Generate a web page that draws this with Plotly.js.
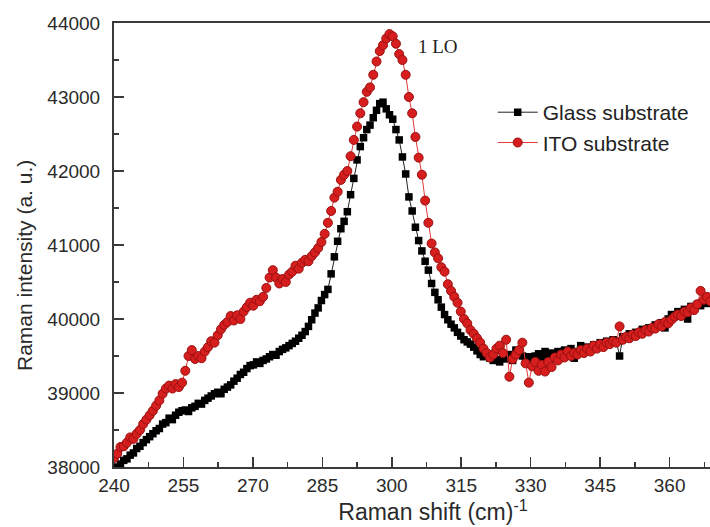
<!DOCTYPE html>
<html>
<head>
<meta charset="utf-8">
<script src="https://cdn.plot.ly/plotly-3.0.1.min.js"></script>
<style>html,body{margin:0;padding:0;overflow:hidden;background:#fff;}#chart{width:760px;height:527px;}</style>
</head>
<body>
<div id="chart"></div>
<script>
// Raman shift (cm^-1), shared sampling grid
const ramanShift = [
240.0,240.7,241.4,242.1,242.8,243.5,244.2,244.9,245.6,246.3,
247.0,247.7,248.4,249.1,249.8,250.5,251.2,251.9,252.6,253.3,
254.0,254.7,255.4,256.1,256.8,257.5,258.2,258.9,259.6,260.3,
261.0,261.7,262.4,263.1,263.8,264.5,265.2,265.9,266.6,267.3,
268.0,268.7,269.4,270.1,270.8,271.5,272.2,272.9,273.6,274.3,
275.0,275.7,276.4,277.1,277.8,278.5,279.2,279.9,280.6,281.3,
282.0,282.7,283.4,284.1,284.8,285.5,286.2,286.9,287.6,288.3,
289.0,289.7,290.4,291.1,291.8,292.5,293.2,293.9,294.6,295.3,
296.0,296.7,297.4,298.1,298.8,299.5,300.2,300.9,301.6,302.3,
303.0,303.7,304.4,305.1,305.8,306.5,307.2,307.9,308.6,309.3,
310.0,310.7,311.4,312.1,312.8,313.5,314.2,314.9,315.6,316.3,
317.0,317.7,318.4,319.1,319.8,320.5,321.2,321.9,322.6,323.3,
324.0,324.7,325.4,326.1,326.8,327.5,328.2,328.9,329.6,330.3,
331.0,331.7,332.4,333.1,333.8,334.5,335.2,335.9,336.6,337.3,
338.0,338.7,339.4,340.1,340.8,341.5,342.2,342.9,343.6,344.3,
345.0,345.7,346.4,347.1,347.8,348.5,349.2,349.9,350.6,351.3,
352.0,352.7,353.4,354.1,354.8,355.5,356.2,356.9,357.6,358.3,
359.0,359.7,360.4,361.1,361.8,362.5,363.2,363.9,364.6,365.3,
366.0,366.7,367.4,368.1,368.8
];

// Glass substrate intensity (a. u.)
const glassIntensity = [
37970,38000,38040,38090,38110,38160,38190,38250,38280,38330,
38370,38410,38450,38490,38520,38580,38600,38660,38640,38700,
38740,38760,38770,38750,38800,38820,38860,38850,38900,38930,
38960,38990,39010,38990,39050,39080,39110,39160,39200,39250,
39280,39330,39370,39380,39420,39400,39440,39460,39490,39520,
39510,39560,39590,39610,39640,39670,39700,39740,39780,39830,
39900,39990,40080,40150,40250,40330,40400,40610,40840,41050,
41220,41320,41450,41680,41900,42150,42330,42450,42560,42620,
42720,42820,42910,42930,42840,42760,42700,42560,42420,42190,
41960,41650,41460,41240,41060,40920,40780,40660,40480,40360,
40260,40160,40060,39990,39930,39880,39820,39770,39720,39690,
39660,39620,39570,39520,39490,39500,39470,39440,39450,39420,
39480,39460,39520,39440,39580,39560,39500,39470,39490,39440,
39500,39530,39470,39560,39510,39540,39500,39560,39530,39580,
39540,39600,39470,39560,39640,39580,39620,39600,39650,39630,
39680,39650,39700,39680,39720,39700,39500,39760,39740,39800,
39780,39820,39800,39860,39850,39880,39870,39920,39900,39950,
39880,40000,40060,40040,40100,40080,40130,40000,40170,40150,
40200,40180,40230,40210,40260
];

// ITO substrate intensity (a. u.)
const itoIntensity = [
38120,38180,38270,38280,38330,38400,38380,38450,38500,38580,
38640,38700,38760,38830,38900,38990,39060,39100,39060,39120,
39080,39140,39300,39500,39580,39460,39500,39470,39560,39620,
39700,39680,39780,39860,39920,39960,40040,39980,40050,40000,
40100,40160,40220,40180,40260,40240,40300,40420,40560,40660,
40560,40480,40540,40500,40600,40640,40720,40680,40760,40800,
40780,40850,40900,40960,41040,41150,41300,41460,41640,41720,
41880,41950,42000,42200,42420,42600,42780,42930,43070,43130,
43300,43480,43620,43700,43790,43850,43820,43720,43580,43500,
43300,43000,42780,42460,42180,41950,41600,41300,41020,40900,
40820,40700,40640,40470,40380,40300,40220,40100,40000,39940,
39850,39800,39740,39680,39600,39540,39480,39520,39600,39640,
39540,39720,39220,39460,39520,39580,39680,39400,39140,39360,
39420,39300,39380,39290,39420,39350,39480,39440,39520,39480,
39560,39500,39540,39520,39580,39540,39600,39560,39640,39600,
39660,39620,39680,39660,39700,39680,39900,39720,39760,39740,
39790,39770,39820,39800,39850,39830,39880,39870,39930,39900,
39960,39940,39990,40030,40060,40040,40100,40090,40150,40120,
40200,40380,40260,40300,40240
];

const seriesNames = ['Glass substrate', 'ITO substrate'];
const xTickVals = [240, 255, 270, 285, 300, 315, 330, 345, 360];
const yTickVals = [38000, 39000, 40000, 41000, 42000, 43000, 44000];
const peakLabel = '1 LO';
const xTitle = 'Raman shift (cm)<sup>-1</sup>';
const yTitle = 'Raman intensity (a. u.)';

const FONT = 'Liberation Sans, Arial, sans-serif';
const AX = '#3a3a3a';

const traces = [
  {
    x: ramanShift, y: glassIntensity, name: seriesNames[0],
    type: 'scatter', mode: 'lines+markers',
    line: {color: '#222', width: 1},
    marker: {symbol: 'square', size: 7.5, color: '#000'}
  },
  {
    x: ramanShift, y: itoIntensity, name: seriesNames[1],
    type: 'scatter', mode: 'lines+markers',
    line: {color: '#e23a3a', width: 1},
    marker: {symbol: 'circle', size: 9, color: '#d61e1e', line: {color: '#9a1010', width: 1}}
  }
];

const layout = {
  width: 760, height: 527,
  margin: {l: 114, r: 8, t: 23, b: 60},
  paper_bgcolor: '#fff', plot_bgcolor: '#fff',
  showlegend: true,
  font: {family: FONT, color: '#222'},
  xaxis: {
    range: [240, 377.8], showgrid: false, zeroline: false,
    showline: true, linecolor: AX, linewidth: 2, mirror: true,
    tickmode: 'array', tickvals: xTickVals, ticktext: xTickVals.map(String),
    ticks: 'inside', ticklen: 10, tickwidth: 1.5, tickcolor: AX,
    minor: {dtick: 7.5, tick0: 240, ticks: 'inside', ticklen: 5, tickwidth: 1.5, tickcolor: AX},
    tickfont: {family: FONT, size: 19, color: '#2a2a2a'},
    ticklabelstandoff: 0,
    title: {text: xTitle, font: {family: FONT, size: 23, color: '#2a2a2a'}, standoff: 9}
  },
  yaxis: {
    range: [38000, 44000], showgrid: false, zeroline: false,
    showline: true, linecolor: AX, linewidth: 2, mirror: true,
    tickmode: 'array', tickvals: yTickVals, ticktext: yTickVals.map(String),
    ticks: 'inside', ticklen: 10, tickwidth: 1.5, tickcolor: AX,
    minor: {dtick: 500, tick0: 38000, ticks: 'inside', ticklen: 5, tickwidth: 1.5, tickcolor: AX},
    tickfont: {family: FONT, size: 19, color: '#2a2a2a'},
    ticklabelstandoff: 8
  },
  legend: {
    x: 0.5936, y: 0.8445, xanchor: 'left', yanchor: 'top',
    bgcolor: 'rgba(0,0,0,0)', borderwidth: 0,
    font: {family: FONT, size: 21, color: '#222'},
    tracegroupgap: 0, itemwidth: 40
  },
  annotations: [
    {
      x: 305.3, y: 43680, xref: 'x', yref: 'y', xanchor: 'left', yanchor: 'middle',
      text: peakLabel, showarrow: false,
      font: {family: 'Liberation Serif, Times New Roman, serif', size: 19, color: '#222'}
    },
    {
      x: 0, y: 0.4527, xref: 'paper', yref: 'paper', xanchor: 'center', yanchor: 'middle',
      xshift: -90, textangle: -90, text: yTitle, showarrow: false,
      font: {family: FONT, size: 21, color: '#2a2a2a'}
    }
  ]
};

Plotly.newPlot('chart', traces, layout, {displayModeBar: false, staticPlot: true});
</script>
</body>
</html>
